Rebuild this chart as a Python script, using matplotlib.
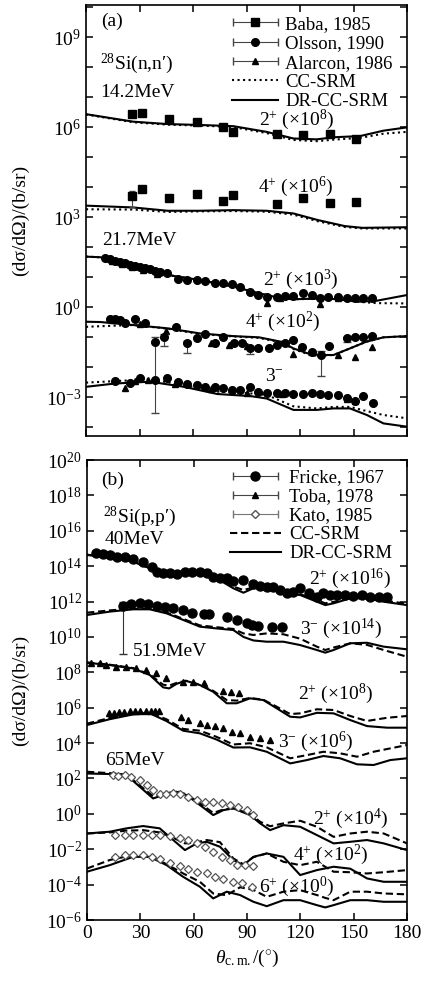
import numpy as np
import matplotlib
matplotlib.use("Agg")
import matplotlib.pyplot as plt
from matplotlib.container import ErrorbarContainer
from matplotlib.legend_handler import HandlerErrorbar

plt.rcParams['font.family'] = ['Liberation Serif', 'DejaVu Serif']
plt.rcParams['mathtext.fontset'] = 'custom'
plt.rcParams['mathtext.rm'] = 'Liberation Serif'
plt.rcParams['mathtext.it'] = 'Liberation Serif:italic'
plt.rcParams['mathtext.bf'] = 'Liberation Serif:bold'

FS = 14

# ---------------- panel (a): 28Si(n,n') -----------------
# 14.2 MeV, values are log10 of (dσ/dΩ × scale)
n14_2p_th = [0, 26.5, 45.7, 63.9, 82.6, 101.3, 116.3, 129.4, 138.8, 153.7, 166.8, 180]
n14_2p_dr = [6.43, 6.18, 6.10, 6.07, 6.03, 5.84, 5.62, 5.59, 5.66, 5.70, 5.88, 5.99]
n14_2p_cc = [6.42, 6.16, 6.08, 6.05, 6.00, 5.80, 5.57, 5.53, 5.58, 5.64, 5.78, 5.84]

n14_4p_th = [0, 26.5, 45.7, 63.9, 82.6, 101.3, 116.3, 130, 145, 155, 180]
n14_4p_dr = [3.38, 3.32, 3.21, 3.21, 3.23, 3.21, 3.12, 2.90, 2.70, 2.64, 2.66]
n14_4p_cc = [3.26, 3.25, 3.17, 3.19, 3.20, 3.18, 3.08, 2.86, 2.67, 2.62, 2.62]

baba_th = [26.0, 31.2, 46.7, 62.1, 77.0, 82.3, 106.9, 121.9, 136.9, 151.2]
baba_2p = [6.43, 6.48, 6.26, 6.18, 5.99, 5.84, 5.77, 5.73, 5.76, 5.60]
baba_4p = [3.70, 3.93, 3.62, 3.76, 3.54, 3.73, 3.43, 3.64, 3.48, 3.50]

# 21.7 MeV
n21_2p_th = [0, 8, 26.5, 45.7, 63.9, 82.6, 97, 109.6, 116.3, 135, 153.7, 163, 180]
n21_2p_dr = [1.68, 1.66, 1.40, 1.07, 0.90, 0.68, 0.46, 0.29, 0.26, 0.29, 0.18, 0.21, 0.40]
n21_2p_cc = [1.68, 1.66, 1.40, 1.07, 0.90, 0.68, 0.46, 0.29, 0.26, 0.28, 0.17, 0.13, 0.12]

n21_4p_th = [0, 8, 26.5, 45.7, 63.9, 82.6, 97, 109.6, 116.3, 127, 138.8, 148, 157, 166.8, 180]
n21_4p_dr = [-0.49, -0.50, -0.60, -0.71, -0.88, -0.97, -1.01, -1.16, -1.38, -1.60, -1.60, -1.38, -1.16, -1.01, -0.97]
n21_4p_cc = [-0.66, -0.64, -0.60, -0.72, -0.90, -0.98, -1.03, -1.18, -1.40, -1.62, -1.60, -1.38, -1.16, -1.01, -0.97]

n21_3m_th = [0, 16.3, 35.9, 54.9, 73.6, 92.3, 101.3, 116.3, 129.4, 138.8, 148, 157.5, 166.8, 180]
n21_3m_dr = [-2.66, -2.55, -2.49, -2.66, -2.90, -2.97, -3.05, -3.43, -3.43, -3.38, -3.38, -3.60, -3.88, -3.99]
n21_3m_cc = [-2.52, -2.47, -2.41, -2.60, -2.82, -2.88, -2.93, -3.31, -3.38, -3.33, -3.33, -3.47, -3.60, -3.71]

ols_2p_th = [10.7, 13.5, 16.3, 19.1, 21.9, 24.7, 27.5, 30.3, 33.1, 35.9, 38.7, 41.5, 45.3, 51.8,
             56.5, 62.1, 66.7, 72.3, 77.0, 81.7, 86.4, 92.0, 96.7, 101.3, 106.9, 111.6, 116.3,
             121.9, 126.6, 131.2, 135.9, 141.5, 146.2, 150.9, 155.5, 160.2]
ols_2p = [1.62, 1.59, 1.54, 1.51, 1.46, 1.40, 1.37, 1.32, 1.29, 1.26, 1.21, 1.18, 1.12, 0.92,
          0.90, 0.90, 0.88, 0.81, 0.79, 0.77, 0.66, 0.51, 0.40, 0.34, 0.34, 0.37, 0.38,
          0.46, 0.40, 0.29, 0.32, 0.34, 0.29, 0.29, 0.29, 0.29]
ala_2p_th = [14.5, 20.0, 26.0, 32.0, 40.0, 101.3, 109.0, 131.2, 141.5]
ala_2p = [1.55, 1.45, 1.35, 1.25, 1.10, 0.12, 0.30, 0.10, 0.30]

ols_4p_th = [13.5, 16.3, 19.1, 21.9, 27.5, 33.1, 38.7, 43.9, 50.4, 56.5, 62.1, 66.7, 72.3, 77.0,
             82.8, 87.5, 92.0, 96.7, 102.5, 107.2, 111.6, 116.3, 121.1, 126.6, 131.8, 136.4,
             146.2, 150.9, 155.5, 160.2]
ols_4p = [-0.41, -0.41, -0.43, -0.54, -0.41, -0.52, -1.16, -0.99, -0.66, -1.21, -1.04, -0.90,
          -1.21, -0.99, -1.21, -1.21, -1.38, -1.38, -1.38, -1.27, -1.21, -1.10, -1.34, -1.49,
          -1.60, -1.30, -1.04, -1.01, -0.99, -0.96]
ols_4p_lo = [0, 0, 0, 0, 0, 0, 2.36, 0.31, 0, 0.33, 0, 0, 0, 0, 0, 0, 0.2, 0, 0, 0, 0, 0, 0,
             0.12, 0.70, 0, 0.12, 0, 0, 0.10]
ala_4p_th = [15.0, 20.0, 30.0, 45.0, 70.0, 80.0, 90.0, 116.3, 141.5, 150.9, 160.4]
ala_4p = [-0.43, -0.48, -0.58, -0.80, -1.20, -1.25, -1.30, -1.57, -1.60, -1.66, -1.32]

ols_3m_th = [16.3, 24.7, 30.3, 38.7, 45.3, 51.8, 56.5, 62.1, 66.7, 72.3, 77.0, 81.7, 86.4, 92.0,
             96.7, 101.3, 106.9, 111.6, 116.3, 121.9, 126.6, 131.2, 135.9, 141.5, 146.2, 150.9,
             155.5, 160.8]
ols_3m = [-2.46, -2.52, -2.38, -2.43, -2.38, -2.49, -2.57, -2.60, -2.66, -2.66, -2.71, -2.77,
          -2.77, -2.68, -2.82, -2.86, -2.86, -2.88, -2.90, -2.90, -2.88, -2.90, -2.93, -2.93,
          -3.04, -3.12, -2.97, -3.21]
ala_3m_th = [21.9, 27.5, 35.0, 50.0, 70.0, 90.0, 110.0, 146.2, 150.9]
ala_3m = [-2.71, -2.45, -2.43, -2.55, -2.72, -2.85, -2.90, -3.08, -3.12]

# ---------------- panel (b): 28Si(p,p') -----------------
p40_th = [0, 12.8, 25.9, 35.3, 44.8, 54.1, 63.5, 72.9, 82.3, 88.0, 93.6, 101.1, 110.5, 119.9,
          129.3, 134.0, 138.7, 148.1, 157.5, 166.9, 180]
p40_2p_dr = [14.63, 14.50, 14.25, 13.88, 13.50, 13.63, 13.69, 13.31, 12.75, 12.50, 12.75, 12.75,
             12.46, 12.37, 11.99, 11.80, 11.90, 12.18, 12.18, 11.99, 11.80]
p40_2p_cc = [14.65, 14.52, 14.27, 13.90, 13.55, 13.66, 13.70, 13.35, 12.85, 12.65, 12.80, 12.78,
             12.52, 12.42, 12.08, 11.90, 11.98, 12.22, 12.22, 12.05, 11.88]
p40_3m_dr = [11.24, 11.43, 11.56, 11.56, 11.33, 10.96, 10.58, 10.48, 10.39, 10.00, 9.80, 9.73,
             9.73, 9.54, 9.26, 9.11, 9.26, 9.64, 9.67, 9.45, 9.30]
p40_3m_cc = [11.37, 11.50, 11.60, 11.58, 11.38, 11.02, 10.65, 10.55, 10.45, 10.20, 10.11, 10.20,
             10.15, 9.90, 9.45, 9.26, 9.40, 9.64, 9.55, 9.26, 8.88]

fri_2p_th = [5.3, 9.0, 12.8, 16.6, 21.3, 25.9, 31.6, 36.3, 39.1, 42.8, 46.6, 50.4, 55.1, 58.8,
             63.5, 67.3, 71.0, 74.8, 78.6, 82.3, 87.9, 93.6, 97.4, 101.1, 104.8, 108.6, 112.4,
             116.1, 119.9, 124.6, 129.3, 133.0, 136.8, 140.6, 145.3, 149.9, 154.7, 159.4, 164.0,
             168.8]
fri_2p = [14.76, 14.69, 14.63, 14.54, 14.54, 14.38, 14.25, 13.97, 13.69, 13.63, 13.59, 13.56,
          13.69, 13.69, 13.69, 13.59, 13.40, 13.31, 13.31, 13.18, 13.22, 12.99, 12.88, 12.84,
          12.80, 12.65, 12.50, 12.56, 12.75, 12.46, 12.27, 12.46, 12.37, 12.37, 12.37, 12.31,
          12.37, 12.27, 12.27, 12.24]
fri_3m_th = [20.3, 25.0, 29.7, 34.4, 39.1, 43.8, 48.5, 54.1, 58.8, 66.0, 68.5, 78.6, 84.2, 89.9,
             93.0, 96.4, 103.9, 109.6]
fri_3m = [11.77, 11.86, 11.90, 11.86, 11.75, 11.71, 11.61, 11.52, 11.37, 11.29, 11.29, 11.14,
          10.96, 10.77, 10.70, 10.63, 10.54, 10.54]

p52_2p_th = [0, 12.8, 25.9, 35.3, 42.8, 46.2, 50.4, 55.6, 63.5, 71.0, 78.6, 84.2, 91.7, 99.2,
             106.8, 114.3, 119.9, 129.3, 138.7, 148.1, 157.5, 168.8, 180]
p52_2p_dr = [8.54, 8.41, 8.22, 7.85, 7.15, 7.09, 7.35, 7.52, 7.28, 6.90, 6.25, 6.25, 6.53, 6.43,
             5.96, 5.49, 5.45, 5.71, 5.68, 5.30, 4.96, 4.87, 4.87]
p52_2p_cc = [8.56, 8.43, 8.24, 7.88, 7.30, 7.25, 7.40, 7.52, 7.30, 6.95, 6.43, 6.40, 6.55, 6.45,
             6.05, 5.64, 5.68, 5.91, 5.87, 5.53, 5.25, 5.43, 5.53]
p52_3m_th = [0, 12.8, 25.9, 35.3, 44.6, 54.1, 63.5, 72.9, 82.3, 91.7, 101.1, 114.3, 123.7, 133.0,
             142.4, 151.9, 161.2, 170.6, 180]
p52_3m_dr = [5.02, 5.35, 5.62, 5.68, 5.25, 4.70, 4.55, 4.20, 3.75, 3.76, 3.51, 2.85, 3.04, 3.27,
             3.14, 2.80, 2.76, 3.04, 3.14]
p52_3m_cc = [5.10, 5.42, 5.66, 5.70, 5.35, 4.80, 4.70, 4.35, 3.92, 3.99, 3.76, 3.14, 3.32, 3.51,
             3.42, 3.23, 3.51, 3.70, 3.89]

tob_2p_th = [2.5, 7.2, 10.5, 16.2, 21.8, 27.4, 33.1, 38.7, 44.4, 53.8, 59.4, 66.0, 76.3, 81.0,
             85.7]
tob_2p = [8.54, 8.51, 8.41, 8.32, 8.28, 8.22, 8.13, 7.94, 7.66, 7.47, 7.47, 7.38, 6.96, 6.90,
          6.81]
tob_3m_th = [12.2, 15.0, 18.0, 21.0, 24.0, 27.0, 30.0, 33.0, 36.0, 38.5, 40.4, 52.8, 56.6, 63.5,
             67.3, 72.0, 76.7, 81.4, 86.1, 91.7, 97.4, 103.0]
tob_3m = [5.68, 5.71, 5.73, 5.77, 5.79, 5.81, 5.83, 5.84, 5.84, 5.83, 5.80, 5.45, 5.30, 5.11,
          5.02, 4.96, 4.83, 4.64, 4.55, 4.36, 4.27, 4.17]

p65_2p_th = [0, 12.8, 22.2, 29.7, 37.2, 42.8, 50.4, 56.0, 63.5, 71.0, 76.7, 82.3, 91.7, 97.4,
             103.0, 110.5, 119.9, 129.3, 138.7, 148.1, 157.5, 166.9, 180]
p65_2p_dr = [2.28, 2.25, 2.19, 1.53, 0.87, 1.06, 1.25, 1.06, 0.50, -0.07, 0.21, 0.31, -0.07,
             -0.54, -0.92, -0.64, -0.73, -1.20, -1.67, -1.58, -1.48, -1.67, -2.05]
p65_2p_cc = [2.38, 2.30, 2.22, 1.60, 1.00, 1.12, 1.28, 1.10, 0.60, 0.05, 0.25, 0.30, 0.00,
             -0.45, -0.70, -0.54, -0.39, -0.73, -1.30, -1.11, -1.01, -1.11, -1.67]
p65_4p_th = [0, 12.8, 22.2, 31.6, 40.9, 48.5, 55.1, 61.7, 67.3, 74.8, 82.3, 88.0, 93.6, 101.1,
             110.5, 119.9, 129.3, 138.7, 148.1, 157.5, 166.9, 180]
p65_4p_dr = [-1.11, -1.01, -0.82, -0.69, -0.82, -1.48, -2.05, -1.67, -1.58, -1.86, -2.61, -2.90,
             -2.43, -2.24, -2.43, -3.46, -3.18, -2.99, -3.10, -3.65, -3.84, -3.84]
p65_4p_cc = [-1.11, -1.05, -0.95, -0.92, -1.05, -1.35, -1.67, -1.60, -1.48, -1.60, -2.52, -2.85,
             -2.45, -2.24, -2.71, -2.90, -2.71, -3.27, -3.30, -3.37, -3.30, -3.18]
p65_6p_th = [0, 12.8, 25.9, 35.3, 44.8, 54.1, 63.5, 71.0, 78.6, 86.1, 93.6, 101.1, 110.5, 119.9,
             129.3, 134.0, 138.7, 148.1, 157.5, 166.9, 180]
p65_6p_dr = [-3.27, -2.90, -2.43, -2.43, -2.90, -3.56, -4.12, -4.78, -4.40, -4.59, -4.97, -5.22,
             -4.88, -4.88, -5.16, -5.29, -5.16, -4.88, -4.88, -4.97, -4.97]
p65_6p_cc = [-3.09, -2.61, -2.33, -2.38, -2.85, -3.37, -3.84, -4.50, -4.60, -4.15, -4.30, -4.69,
             -4.40, -4.31, -4.59, -4.75, -4.88, -4.40, -4.40, -4.50, -4.55]

kat_2p_th = [14.7, 17.5, 21.3, 25.0, 29.7, 33.5, 37.2, 40.9, 44.6, 48.5, 52.3, 56.9, 61.7, 66.3,
             71.0, 75.8, 80.5, 85.1, 89.9, 93.6]
kat_2p = [2.19, 2.13, 2.19, 2.10, 1.91, 1.63, 1.34, 1.15, 1.12, 1.19, 1.15, 0.97, 0.78, 0.68,
          0.68, 0.63, 0.49, 0.40, 0.21, -0.07]
kat_4p_th = [15.6, 21.3, 25.9, 31.6, 36.3, 40.9, 46.6, 52.3, 56.9, 61.7, 66.3, 71.0, 75.8, 80.5,
             84.2, 88.9, 93.6]
kat_4p = [-1.20, -1.20, -1.20, -1.20, -1.20, -1.20, -1.26, -1.39, -1.48, -1.67, -1.86, -2.14,
          -2.43, -2.61, -2.90, -2.90, -2.95]
kat_6p_th = [15.6, 21.3, 25.9, 31.6, 36.3, 40.9, 46.6, 52.3, 56.9, 61.7, 67.3, 72.0, 76.7, 82.3,
             87.0, 92.7]
kat_6p = [-2.43, -2.33, -2.33, -2.33, -2.43, -2.58, -2.77, -2.95, -3.14, -3.27, -3.37, -3.56,
          -3.71, -3.84, -3.93, -4.12]


def p(v):
    return 10.0 ** np.asarray(v, dtype=float)


def curves(ax, th, dr, cc, ccstyle):
    ax.plot(th, p(cc), color='black', lw=1.5, ls=ccstyle)
    ax.plot(th, p(dr), color='black', lw=1.5, ls='-')


def style_axes(ax):
    ax.set_xlim(0, 180)
    ax.set_xticks(np.arange(0, 181, 30))
    ax.minorticks_off()
    ax.tick_params(which='both', direction='in', top=True, right=True, length=5, width=1.1,
                   labelsize=FS)
    for s in ax.spines.values():
        s.set_linewidth(1.2)


def label(state, scale):
    return r'$%s$ (×10$^{%d}$)' % (state, scale)


fig = plt.figure(figsize=(4.22, 9.83), dpi=100)
W, H = 422.0, 983.0
axa = fig.add_axes([86 / W, 1 - 436 / H, 321 / W, 431 / H])
axb = fig.add_axes([87 / W, 1 - 920 / H, 320 / W, 460 / H])
hmap = {ErrorbarContainer: HandlerErrorbar(xerr_size=1.2)}

# ---- panel a ----
axa.set_yscale('log')
curves(axa, n14_2p_th, n14_2p_dr, n14_2p_cc, ':')
curves(axa, n14_4p_th, n14_4p_dr, n14_4p_cc, ':')
curves(axa, n21_2p_th, n21_2p_dr, n21_2p_cc, ':')
curves(axa, n21_4p_th, n21_4p_dr, n21_4p_cc, ':')
curves(axa, n21_3m_th, n21_3m_dr, n21_3m_cc, ':')

ms_sq, ms_c, ms_t = 6, 5.5, 5
axa.plot(baba_th, p(baba_2p), 's', color='black', ms=ms_sq)
b4 = p(baba_4p)
b4_lo = np.zeros(len(b4))
b4_hi = np.zeros(len(b4))
b4_lo[0] = b4[0] - 10 ** 3.34
b4_hi[0] = 10 ** 3.88 - b4[0]
axa.errorbar(baba_th, b4, yerr=[b4_lo, b4_hi], fmt='s', color='black', ms=ms_sq,
             elinewidth=0.8, capsize=2.5, ecolor='#444444')

axa.plot(ala_2p_th, p(ala_2p), '^', color='black', ms=ms_t)
axa.plot(ols_2p_th, p(ols_2p), 'o', color='black', ms=ms_c)
o4 = p(ols_4p)
o4_lo = o4 - p(np.array(ols_4p) - np.array(ols_4p_lo))
axa.plot(ala_4p_th, p(ala_4p), '^', color='black', ms=ms_t)
axa.errorbar(ols_4p_th, o4, yerr=[o4_lo, o4_lo * 0.4], fmt='o', color='black', ms=ms_c,
             elinewidth=0.8, capsize=3, ecolor='#444444')
axa.plot(ala_3m_th, p(ala_3m), '^', color='black', ms=ms_t)
axa.plot(ols_3m_th, p(ols_3m), 'o', color='black', ms=ms_c)

axa.set_ylim(10 ** -4.3, 10 ** 10.07)
axa.set_yticks([10.0 ** k for k in range(-4, 11)])
axa.set_yticklabels(['$10^{%d}$' % k if k % 3 == 0 else '' for k in range(-4, 11)])
style_axes(axa)
axa.set_xticklabels([])

# legend (a)
ekw = dict(elinewidth=0.8, capsize=3, ecolor='#444444')
ha = [
    axa.errorbar([np.nan], [np.nan], xerr=[1], fmt='s', color='black', ms=ms_sq,
                 label='Baba, 1985', **ekw),
    axa.errorbar([np.nan], [np.nan], xerr=[1], fmt='o', color='black', ms=ms_c,
                 label='Olsson, 1990', **ekw),
    axa.errorbar([np.nan], [np.nan], xerr=[1], fmt='^', color='black', ms=ms_t,
                 label='Alarcon, 1986', **ekw),
    axa.plot([], [], color='black', ls=':', lw=1.5, label='CC-SRM')[0],
    axa.plot([], [], color='black', ls='-', lw=1.5, label='DR-CC-SRM')[0],
]
axa.legend(handles=ha, handler_map=hmap, loc='upper left', bbox_to_anchor=(0.455, 0.975),
           frameon=False, fontsize=13.5, borderpad=0, borderaxespad=0, handlelength=2.45,
           handletextpad=0.4, labelspacing=0.12)

ta = dict(fontsize=FS, ha='left', va='center')
axa.text(8.5, 10 ** 9.51, '(a)', **ta)
axa.text(7.9, 10 ** 8.12, '$^{28}$Si(n,n′)', **ta)
axa.text(7.9, 10 ** 7.14, '14.2MeV', **ta)
axa.text(97, 10 ** 6.23, label('2^{+}', 8), **ta)
axa.text(96.5, 10 ** 4.01, label('4^{+}', 6), **ta)
axa.text(8.8, 10 ** 2.23, '21.7MeV', **ta)
axa.text(99.3, 10 ** 0.90, label('2^{+}', 3), **ta)
axa.text(89.2, 10 ** -0.49, label('4^{+}', 2), **ta)
axa.text(100.4, 10 ** -2.30, r'$3^{-}$', **ta)

# ---- panel b ----
DS = (0, (3.5, 1.8))
axb.set_yscale('log')
curves(axb, p40_th, p40_2p_dr, p40_2p_cc, DS)
curves(axb, p40_th, p40_3m_dr, p40_3m_cc, DS)
curves(axb, p52_2p_th, p52_2p_dr, p52_2p_cc, DS)
curves(axb, p52_3m_th, p52_3m_dr, p52_3m_cc, DS)
curves(axb, p65_2p_th, p65_2p_dr, p65_2p_cc, DS)
curves(axb, p65_4p_th, p65_4p_dr, p65_4p_cc, DS)
curves(axb, p65_6p_th, p65_6p_dr, p65_6p_cc, DS)

axb.plot(fri_2p_th, p(fri_2p), 'o', color='black', ms=6.5)
f3 = p(fri_3m)
f3_lo = np.zeros(len(f3))
f3_hi = np.zeros(len(f3))
f3_lo[0] = f3[0] - 10 ** 9.01
f3_hi[0] = 10 ** 11.99 - f3[0]
axb.errorbar(fri_3m_th, f3, yerr=[f3_lo, f3_hi], fmt='o', color='black', ms=6.5,
             elinewidth=0.8, capsize=3, ecolor='#333333')
axb.plot(tob_2p_th, p(tob_2p), '^', color='black', ms=5)
axb.plot(tob_3m_th, p(tob_3m), '^', color='black', ms=5)
dkw = dict(ls='none', marker='D', ms=4.5, mfc='white', mec='#555555', mew=0.9)
axb.plot(kat_2p_th, p(kat_2p), **dkw)
axb.plot(kat_4p_th, p(kat_4p), **dkw)
axb.plot(kat_6p_th, p(kat_6p), **dkw)

axb.set_ylim(1e-6, 1e20)
axb.set_yticks([10.0 ** k for k in range(-6, 21, 2)])
axb.set_yticklabels(['$10^{%d}$' % k for k in range(-6, 21, 2)])
style_axes(axb)
axb.set_xlabel(r'$\theta_{\rm c.m.}/(^{\circ})$', fontsize=FS, labelpad=4)

hb = [
    axb.errorbar([np.nan], [np.nan], xerr=[1], fmt='o', color='black', ms=6.5,
                 label='Fricke, 1967', **ekw),
    axb.errorbar([np.nan], [np.nan], xerr=[1], fmt='^', color='black', ms=5,
                 label='Toba, 1978', **ekw),
    axb.errorbar([np.nan], [np.nan], xerr=[1], fmt='D', color='#555555', ms=4.5,
                 mfc='white', mec='#555555', elinewidth=0.8, capsize=3, ecolor='#777777',
                 label='Kato, 1985'),
    axb.plot([], [], color='black', ls=DS, lw=1.5, label='CC-SRM')[0],
    axb.plot([], [], color='black', ls='-', lw=1.5, label='DR-CC-SRM')[0],
]
axb.legend(handles=hb, handler_map=hmap, loc='upper left', bbox_to_anchor=(0.447, 0.98),
           frameon=False, fontsize=13.5, borderpad=0, borderaxespad=0, handlelength=2.7,
           handletextpad=0.45, labelspacing=0.1)

axb.text(8.1, 10 ** 18.87, '(b)', **ta)
axb.text(9.0, 10 ** 16.80, '$^{28}$Si(p,p′)', **ta)
axb.text(10.0, 10 ** 15.48, '40MeV', **ta)
axb.text(124.6, 10 ** 13.31, label('2^{+}', 16), **ta)
axb.text(119.9, 10 ** 10.48, label('3^{-}', 14), **ta)
axb.text(25.9, 10 ** 9.17, '51.9MeV', **ta)
axb.text(118.9, 10 ** 6.81, label('2^{+}', 8), **ta)
axb.text(107.7, 10 ** 4.07, label('3^{-}', 6), **ta)
axb.text(10.0, 10 ** 3.00, '65MeV', **ta)
axb.text(127.4, 10 ** -0.26, label('2^{+}', 4), **ta)
axb.text(115.8, 10 ** -2.33, label('4^{+}', 2), **ta)
axb.text(96.9, 10 ** -4.12, label('6^{+}', 0), **ta)

fig.text(20 / W, 1 - 220 / H, '(dσ/dΩ)/(b/sr)', rotation=90, ha='center', va='center',
         fontsize=FS)
fig.text(20 / W, 1 - 690 / H, '(dσ/dΩ)/(b/sr)', rotation=90, ha='center', va='center',
         fontsize=FS)

fig.savefig('out.png', dpi=100)
